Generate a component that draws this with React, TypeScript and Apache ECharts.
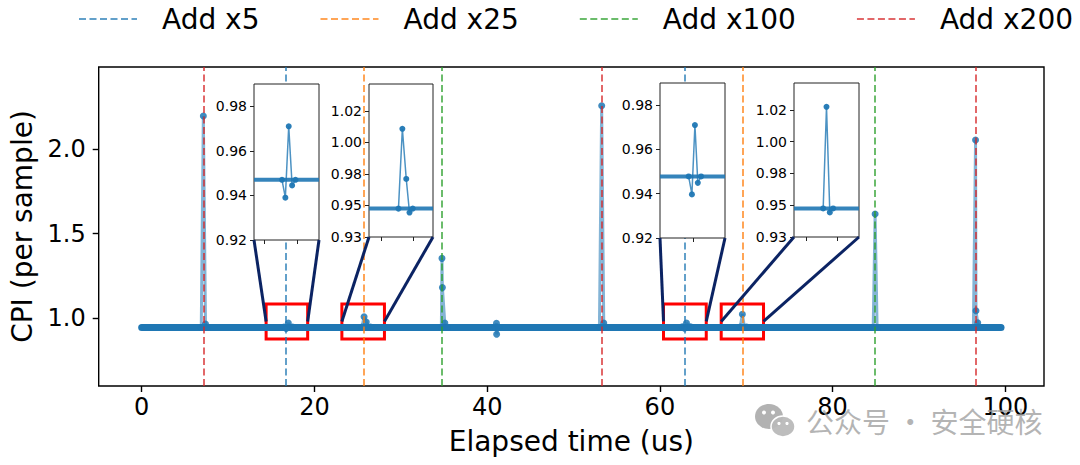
import React, { useEffect, useRef } from "react";
import * as echarts from "echarts";

// ---------------- data ----------------
const X_TICKS = [0, 20, 40, 60, 80, 100];
const Y_TICKS = [1.0, 1.5, 2.0];
const X_RANGE = [-4.975, 104.475];
const Y_RANGE = [0.598, 2.485];

const LEGEND_NAMES = ["Add x5", "Add x25", "Add x100", "Add x200"];
const EVENT_X5 = [16.7, 62.9];
const EVENT_X25 = [25.7, 69.6];
const EVENT_X100 = [34.8, 84.9];
const EVENT_X200 = [7.14, 53.24, 96.52];
const EVENTS = [EVENT_X5, EVENT_X25, EVENT_X100, EVENT_X200];

const BASELINE = [
  [0, 0.944],
  [99.5, 0.944],
];

const SPIKE_1 = [[6.9, 0.944], [7.14, 2.195], [7.39, 0.965], [7.64, 0.944]];
const SPIKE_2 = [[16.48, 0.947], [16.73, 0.939], [16.98, 0.971], [17.23, 0.9445], [17.48, 0.947]];
const SPIKE_3 = [[25.5, 0.947], [25.75, 1.008], [26.0, 0.977], [26.25, 0.946], [26.5, 0.947]];
const SPIKE_4 = [[34.7, 0.944], [34.77, 1.353], [34.82, 1.18], [35.1, 0.97], [35.35, 0.944]];
const SPIKE_5 = [[40.85, 0.944], [41.08, 0.969], [41.1, 0.904], [41.35, 0.944]];
const SPIKE_6 = [[53.0, 0.944], [53.26, 2.256], [53.5, 0.97], [53.75, 0.944]];
const SPIKE_7 = [[62.6, 0.9478], [62.85, 0.9397], [63.08, 0.971], [63.3, 0.9449], [63.55, 0.9478]];
const SPIKE_8 = [[69.3, 0.947], [69.55, 1.022], [69.8, 0.946], [70.05, 0.947]];
const SPIKE_9 = [[84.7, 0.944], [84.92, 1.615], [85.15, 0.944]];
const SPIKE_10 = [[96.3, 0.944], [96.55, 2.053], [96.6, 1.043], [96.8, 0.972], [97.05, 0.944]];
const SPIKES = [SPIKE_1, SPIKE_2, SPIKE_3, SPIKE_4, SPIKE_5, SPIKE_6, SPIKE_7, SPIKE_8, SPIKE_9, SPIKE_10];

// insets (zoomed views)
const INSET_X_RANGES = [[14.41, 19.22], [23.18, 28.11], [60.42, 65.37], [67.1, 72.0]];
const INSET_X_TICKS = [[15.2, 17.6], [24.15, 26.58], [62.97], [68.0, 70.34]];
const INSET_Y_RANGE_A = [0.92, 0.99];
const INSET_Y_RANGE_B = [0.94, 1.037];
const INSET_Y_TICKS_A = [0.92, 0.94, 0.96, 0.98];
const INSET_Y_LABELS_A = ["0.92", "0.94", "0.96", "0.98"];
const INSET_Y_TICKS_B = [0.94, 0.96, 0.98, 1.0, 1.02];
const INSET_Y_LABELS_B = ["0.93", "0.95", "0.98", "1.00", "1.02"];
const INSET2_SPIKE = [[25.45, 0.958], [25.75, 1.0086], [26.05, 0.9768], [26.3, 0.9555], [26.55, 0.958]];
const INSET4_SPIKE = [[69.3, 0.958], [69.55, 1.022], [69.8, 0.9555], [70.05, 0.958]];
const INSET_SPIKES = [SPIKE_2, INSET2_SPIKE, SPIKE_7, INSET4_SPIKE];
const INSET_BASE = [0.947, 0.958, 0.9478, 0.958];
const BOX_Y = [0.876, 1.083];
const CONNECT_Y = 0.98;

// ---------------- styles / layout ----------------
const FONT = "DejaVu Sans";
const EVENT_COLORS = [
  "rgba(31,119,180,0.7)",
  "rgba(255,127,14,0.7)",
  "rgba(44,160,44,0.7)",
  "rgba(214,39,40,0.7)",
];
const INSET_EVENT_COLORS = [
  "rgba(31,119,180,0.5)",
  "rgba(255,127,14,0.6)",
  "rgba(44,160,44,0.5)",
  "rgba(214,39,40,0.5)",
];
const BLUE = "#1f77b4";
const INSET_BOXES = [
  { left: 254, top: 84, width: 65, height: 156 },
  { left: 369, top: 84, width: 64, height: 153 },
  { left: 660, top: 83, width: 65, height: 155 },
  { left: 794, top: 83, width: 65, height: 154 },
];
const NAVY = "#0b2363";

function buildOption() {
  const grids: any[] = [
    {
      left: 98.7,
      top: 67,
      right: 36,
      bottom: 79,
      show: true,
      borderColor: "#000",
      borderWidth: 1.4,
      backgroundColor: "transparent",
    },
  ];
  const xAxes: any[] = [
    {
      type: "value",
      gridIndex: 0,
      min: X_RANGE[0],
      max: X_RANGE[1],
      name: "Elapsed time (us)",
      nameLocation: "middle",
      nameGap: 41,
      nameTextStyle: { fontSize: 28, fontFamily: FONT, color: "#000" },
      axisLine: { show: false, onZero: false },
      axisTick: { show: true, customValues: X_TICKS, length: 6, lineStyle: { color: "#000", width: 1.4 } },
      axisLabel: {
        customValues: X_TICKS,
        fontSize: 24,
        fontFamily: FONT,
        color: "#000",
        margin: 9,
        formatter: (v: number) => String(Math.round(v)),
      },
      splitLine: { show: false },
    },
  ];
  const yAxes: any[] = [
    {
      type: "value",
      gridIndex: 0,
      min: Y_RANGE[0],
      max: Y_RANGE[1],
      name: "CPI (per sample)",
      nameLocation: "middle",
      nameGap: 60,
      nameTextStyle: { fontSize: 28, fontFamily: FONT, color: "#000" },
      axisLine: { show: false, onZero: false },
      axisTick: { show: true, customValues: Y_TICKS, length: 6, lineStyle: { color: "#000", width: 1.4 } },
      axisLabel: {
        customValues: Y_TICKS,
        fontSize: 24,
        fontFamily: FONT,
        color: "#000",
        margin: 13,
        formatter: (v: number) => v.toFixed(1),
      },
      splitLine: { show: false },
    },
  ];
  const series: any[] = [];

  // main baseline band
  series.push({
    type: "line",
    xAxisIndex: 0,
    yAxisIndex: 0,
    data: BASELINE,
    symbol: "none",
    lineStyle: { width: 7, color: BLUE, cap: "round" },
    z: 2,
    silent: true,
  });
  // spikes
  SPIKES.forEach((s) => {
    series.push({
      type: "line",
      xAxisIndex: 0,
      yAxisIndex: 0,
      data: s,
      symbol: "circle",
      symbolSize: 7,
      showSymbol: true,
      lineStyle: { width: 3, color: "rgba(31,119,180,0.55)" },
      itemStyle: { color: "rgba(31,119,180,0.85)" },
      z: 3,
      silent: true,
    });
  });
  // event lines + legend
  LEGEND_NAMES.forEach((name, i) => {
    series.push({
      type: "line",
      name,
      xAxisIndex: 0,
      yAxisIndex: 0,
      data: [],
      symbol: "none",
      lineStyle: { type: [7, 3.5], width: 2, color: EVENT_COLORS[i] },
      itemStyle: { color: EVENT_COLORS[i] },
      z: 4,
      markLine: {
        silent: true,
        symbol: ["none", "none"],
        label: { show: false },
        lineStyle: { type: [7, 3.5], width: 2, color: EVENT_COLORS[i] },
        emphasis: { disabled: true },
        data: EVENTS[i].map((x) => ({ xAxis: x })),
      },
    });
  });
  // red boxes
  series.push({
    type: "line",
    xAxisIndex: 0,
    yAxisIndex: 0,
    data: [],
    z: 6,
    markArea: {
      silent: true,
      itemStyle: { color: "rgba(0,0,0,0)", borderColor: "#ff0000", borderWidth: 3 },
      data: INSET_X_RANGES.map((r) => [
        { xAxis: r[0], yAxis: BOX_Y[0] },
        { xAxis: r[1], yAxis: BOX_Y[1] },
      ]),
    },
  });

  // insets
  INSET_X_RANGES.forEach((r, i) => {
    const gi = i + 1;
    const isB = i === 1 || i === 3;
    const yr = isB ? INSET_Y_RANGE_B : INSET_Y_RANGE_A;
    const yt = isB ? INSET_Y_TICKS_B : INSET_Y_TICKS_A;
    const yl = isB ? INSET_Y_LABELS_B : INSET_Y_LABELS_A;
    const b = INSET_BOXES[i];
    grids.push({
      left: b.left,
      top: b.top,
      width: b.width,
      height: b.height,
      show: true,
      borderColor: "#222",
      borderWidth: 1,
      backgroundColor: "#ffffff",
      z: 10,
    });
    xAxes.push({
      type: "value",
      gridIndex: gi,
      min: r[0],
      max: r[1],
      z: 11,
      axisLine: { show: false, onZero: false },
      axisTick: { show: true, customValues: INSET_X_TICKS[i], length: 4, lineStyle: { color: "#222", width: 1 } },
      axisLabel: { show: false, customValues: INSET_X_TICKS[i] },
      splitLine: { show: false },
    });
    yAxes.push({
      type: "value",
      gridIndex: gi,
      min: yr[0],
      max: yr[1],
      z: 11,
      axisLine: { show: false, onZero: false },
      axisTick: { show: true, customValues: yt, length: 4, lineStyle: { color: "#222", width: 1 } },
      axisLabel: {
        customValues: yt,
        fontSize: 14,
        fontFamily: FONT,
        color: "#000",
        margin: 7,
        formatter: (v: number) => {
          let best = 0;
          yt.forEach((t, k) => {
            if (Math.abs(t - v) < Math.abs(yt[best] - v)) best = k;
          });
          return yl[best];
        },
      },
      splitLine: { show: false },
    });
    // faint grid lines
    series.push({
      type: "line",
      xAxisIndex: gi,
      yAxisIndex: gi,
      data: [],
      z: 11,
      markLine: {
        silent: true,
        symbol: ["none", "none"],
        label: { show: false },
        lineStyle: { type: "solid", width: 0.8, color: "rgba(176,176,176,0.35)" },
        data: [
          ...INSET_X_TICKS[i].map((x) => ({ xAxis: x })),
          ...yt.filter((y) => y > yr[0]).map((y) => ({ yAxis: y })),
        ],
      },
    });
    // event dashed lines inside inset
    const evMarks: any[] = [];
    EVENTS.forEach((ev, k) => {
      ev.forEach((x) => {
        if (x > r[0] && x < r[1]) {
          evMarks.push({ xAxis: x, lineStyle: { color: INSET_EVENT_COLORS[k] } });
        }
      });
    });
    // baseline
    series.push({
      type: "line",
      xAxisIndex: gi,
      yAxisIndex: gi,
      data: [
        [r[0], INSET_BASE[i]],
        [r[1], INSET_BASE[i]],
      ],
      symbol: "none",
      lineStyle: { width: 4, color: "rgba(31,119,180,0.9)" },
      z: 12,
      silent: true,
      markLine: {
        silent: true,
        symbol: ["none", "none"],
        label: { show: false },
        lineStyle: { type: [4, 2.5], width: 1.5 },
        data: evMarks,
      },
    });
    series.push({
      type: "line",
      xAxisIndex: gi,
      yAxisIndex: gi,
      data: INSET_SPIKES[i],
      symbol: "circle",
      symbolSize: 6,
      showSymbol: true,
      lineStyle: { width: 1.5, color: "rgba(31,119,180,0.8)" },
      itemStyle: { color: "rgba(31,119,180,0.95)" },
      z: 13,
      silent: true,
    });
  });

  return {
    animation: false,
    backgroundColor: "#ffffff",
    textStyle: { fontFamily: FONT },
    legend: {
      data: LEGEND_NAMES,
      left: 73,
      top: 0,
      width: 1200,
      itemWidth: 58,
      itemHeight: 14,
      itemGap: 60,
      selectedMode: false,
      itemStyle: { opacity: 0 },
      textStyle: { fontSize: 28, fontFamily: FONT, color: "#000", padding: [0, 0, 0, 20] },
    },
    grid: grids,
    xAxis: xAxes,
    yAxis: yAxes,
    series,
    graphic: [
      {
        type: "group",
        left: 755,
        top: 404,
        z: 30,
        silent: true,
        children: [
          { type: "ellipse", shape: { cx: 15, cy: 14, rx: 14, ry: 12.5 }, style: { fill: "rgba(165,165,165,0.85)" } },
          { type: "ellipse", shape: { cx: 29, cy: 24, rx: 12, ry: 10.5 }, style: { fill: "rgba(185,185,185,0.95)", stroke: "#fff", lineWidth: 1.5 } },
          { type: "circle", shape: { cx: 10, cy: 10, r: 2 }, style: { fill: "#fff" } },
          { type: "circle", shape: { cx: 19, cy: 10, r: 2 }, style: { fill: "#fff" } },
          { type: "circle", shape: { cx: 25, cy: 21, r: 1.6 }, style: { fill: "#fff" } },
          { type: "circle", shape: { cx: 33, cy: 21, r: 1.6 }, style: { fill: "#fff" } },
        ],
      },
      {
        type: "text",
        left: 806,
        top: 407,
        z: 30,
        silent: true,
        style: {
          text: "公众号 · 安全硬核",
          fontSize: 28,
          fontFamily: "Noto Sans CJK SC",
          fill: "rgba(155,155,155,0.75)",
        },
      },
    ],
  };
}

export default function App() {
  const ref = useRef<HTMLDivElement>(null);
  useEffect(() => {
    if (!ref.current) return;
    const chart = echarts.init(ref.current, null, { renderer: "svg" });
    const option: any = buildOption();
    chart.setOption(option);
    // connectors from inset corners to the zoomed region
    const lines: any[] = [];
    INSET_X_RANGES.forEach((r, i) => {
      const gi = i + 1;
      const isB = i === 1 || i === 3;
      const yr = isB ? INSET_Y_RANGE_B : INSET_Y_RANGE_A;
      const bl = chart.convertToPixel({ gridIndex: gi } as any, [r[0], yr[0]]) as number[];
      const br = chart.convertToPixel({ gridIndex: gi } as any, [r[1], yr[0]]) as number[];
      const ml = chart.convertToPixel({ gridIndex: 0 } as any, [r[0], CONNECT_Y]) as number[];
      const mr = chart.convertToPixel({ gridIndex: 0 } as any, [r[1], CONNECT_Y]) as number[];
      [
        [bl, ml],
        [br, mr],
      ].forEach(([a, b]) => {
        if (!a || !b) return;
        lines.push({
          type: "line",
          z: 20,
          silent: true,
          shape: { x1: a[0], y1: a[1], x2: b[0], y2: b[1] },
          style: { stroke: NAVY, lineWidth: 3 },
        });
      });
    });
    chart.setOption({ graphic: [...option.graphic, ...lines] }, { replaceMerge: ["graphic"] } as any);
    return () => chart.dispose();
  }, []);
  return (
    <div
      ref={ref}
      style={{ position: "fixed", left: 0, top: 0, width: 1080, height: 465, background: "#fff" }}
    />
  );
}
